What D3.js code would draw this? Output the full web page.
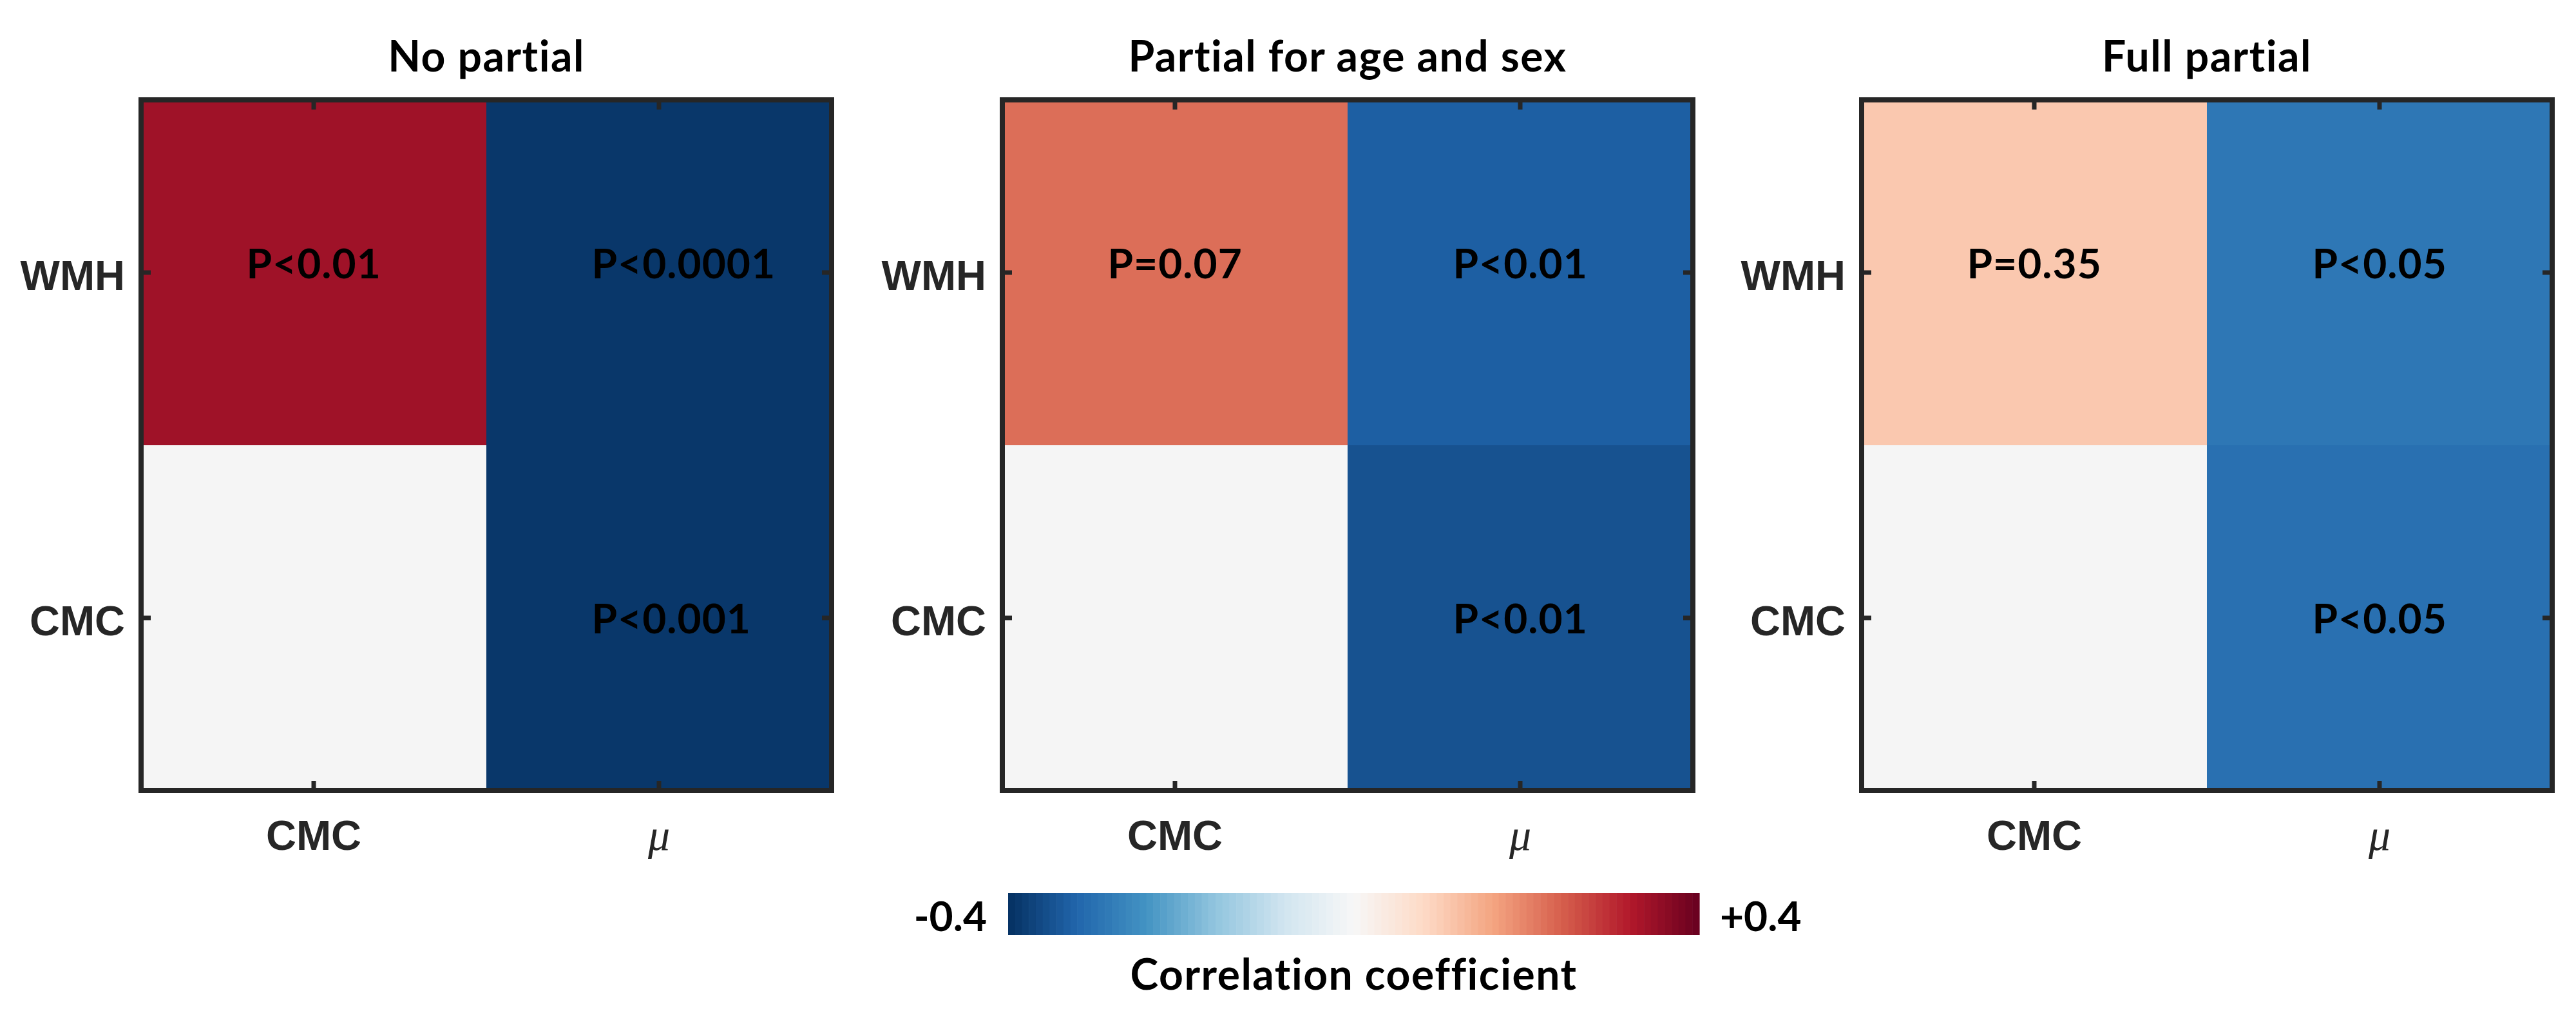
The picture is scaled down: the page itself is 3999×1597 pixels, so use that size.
<!DOCTYPE html>
<html>
<head>
<meta charset="utf-8">
<script src="https://cdn.jsdelivr.net/npm/d3@7"></script>
<style>
  body { margin: 0; background: #ffffff; }
</style>
</head>
<body>
<div id="chart"></div>
<script>
// ---- data ----
const panelTitles = ["No partial", "Partial for age and sex", "Full partial"];
const rowLabels = ["WMH", "CMC"];
const colLabels = ["CMC", "μ"];

// correlation coefficients, rows = rowLabels, cols = colLabels (null = not shown)
const corrNoPartial = [[0.34, -0.39], [null, -0.39]];
const corrAgeSex = [[0.224, -0.33], [null, -0.35]];
const corrFull = [[0.108, -0.29], [null, -0.302]];

const pNoPartial = [["P<0.01", "P<0.0001"], ["", "P<0.001"]];
const pAgeSex = [["P=0.07", "P<0.01"], ["", "P<0.01"]];
const pFull = [["P=0.35", "P<0.05"], ["", "P<0.05"]];

const colorLimits = [-0.4, 0.4];
const colorbarTickLabels = ["-0.4", "+0.4"];
const colorbarTitle = "Correlation coefficient";

// RdBu (blue -> red)
const rdbu = ["#053061", "#2166ac", "#4393c3", "#92c5de", "#d1e5f0", "#f7f7f7",
              "#fddbc7", "#f4a582", "#d6604d", "#b2182b", "#67001f"];

// ---- layout ----
const W = 3999, H = 1597;
const PANEL_LEFT = [219, 1556, 2890];
const PANEL_TOP = 155;
const PANEL_SIZE = 1072;
const TICK_LEN = 15;
const AXIS_COLOR = "#262626";
const EMPTY_FILL = "#f5f5f5";
const CB = { x0: 1565, x1: 2638, y: 1386, h: 65, steps: 100 };
const TITLE_FONT = "Lato, 'Open Sans', sans-serif";
const TICK_FONT = "'Liberation Sans', Arial, sans-serif";
const ROW_TEXT_NUDGE = [-14, 1];

const panels = [
  { title: panelTitles[0], corr: corrNoPartial, p: pNoPartial },
  { title: panelTitles[1], corr: corrAgeSex, p: pAgeSex },
  { title: panelTitles[2], corr: corrFull, p: pFull }
];

const color = d3.scaleLinear()
  .domain(d3.range(rdbu.length).map(i => colorLimits[0] + i * (colorLimits[1] - colorLimits[0]) / (rdbu.length - 1)))
  .range(rdbu)
  .clamp(true);

const svg = d3.select("#chart").append("svg")
  .attr("width", W)
  .attr("height", H)
  .attr("viewBox", `0 0 ${W} ${H}`);

panels.forEach((panel, pi) => {
  const g = svg.append("g")
    .attr("transform", `translate(${PANEL_LEFT[pi]},${PANEL_TOP})`);

  const x = d3.scaleBand().domain(colLabels).range([0, PANEL_SIZE]);
  const y = d3.scaleBand().domain(rowLabels).range([0, PANEL_SIZE]);

  const cells = [];
  rowLabels.forEach((r, ri) => {
    colLabels.forEach((c, ci) => {
      cells.push({ row: r, col: c, ri, value: panel.corr[ri][ci], label: panel.p[ri][ci] });
    });
  });

  g.selectAll(".cell")
    .data(cells)
    .enter()
    .append("rect")
    .attr("class", "cell")
    .attr("x", d => x(d.col))
    .attr("y", d => y(d.row))
    .attr("width", x.bandwidth() + 0.5)
    .attr("height", y.bandwidth() + 0.5)
    .attr("fill", d => d.value == null ? EMPTY_FILL : color(d.value));

  g.selectAll(".plabel")
    .data(cells.filter(d => d.label))
    .enter()
    .append("text")
    .attr("class", "plabel")
    .attr("x", d => x(d.col) + x.bandwidth() * 0.305)
    .attr("y", d => y(d.row) + y.bandwidth() / 2 + 23 + ROW_TEXT_NUDGE[d.ri])
    .attr("font-family", TITLE_FONT)
    .attr("font-weight", "bold")
    .attr("font-size", 64)
    .attr("letter-spacing", 1)
    .attr("fill", "#000")
    .text(d => d.label);

  const styleAxis = sel => {
    sel.select(".domain").remove();
    sel.selectAll(".tick line")
      .attr("stroke", AXIS_COLOR)
      .attr("stroke-width", 7);
    sel.selectAll(".tick text")
      .attr("fill", AXIS_COLOR)
      .attr("font-family", TICK_FONT)
      .attr("font-weight", "bold")
      .attr("font-size", 65);
  };

  g.append("g")
    .attr("transform", `translate(0,${PANEL_SIZE})`)
    .call(d3.axisBottom(x).tickSizeInner(-TICK_LEN).tickSizeOuter(0).tickPadding(0))
    .call(styleAxis)
    .call(a => a.selectAll(".tick text")
      .attr("y", 92)
      .attr("dy", null)
      .filter(d => d === "μ")
      .attr("font-family", "'Liberation Serif', 'DejaVu Serif', serif")
      .attr("font-style", "italic")
      .attr("font-weight", "normal")
      .attr("font-size", 68));

  g.append("g")
    .call(d3.axisTop(x).tickSizeInner(-TICK_LEN).tickSizeOuter(0).tickFormat(""))
    .call(styleAxis);

  g.append("g")
    .call(d3.axisLeft(y).tickSizeInner(-TICK_LEN).tickSizeOuter(0).tickPadding(25))
    .call(styleAxis)
    .call(a => a.selectAll(".tick text").attr("dy", null).attr("y", 27));

  g.append("g")
    .attr("transform", `translate(${PANEL_SIZE},0)`)
    .call(d3.axisRight(y).tickSizeInner(-TICK_LEN).tickSizeOuter(0).tickFormat(""))
    .call(styleAxis);

  g.append("rect")
    .attr("x", 0)
    .attr("y", 0)
    .attr("width", PANEL_SIZE)
    .attr("height", PANEL_SIZE)
    .attr("fill", "none")
    .attr("stroke", AXIS_COLOR)
    .attr("stroke-width", 8);

  g.append("text")
    .attr("x", PANEL_SIZE / 2)
    .attr("y", 111 - PANEL_TOP)
    .attr("text-anchor", "middle")
    .attr("font-family", TITLE_FONT)
    .attr("font-weight", "bold")
    .attr("font-size", 66)
    .attr("letter-spacing", 1.5)
    .attr("fill", "#000")
    .text(panel.title);
});

// ---- colorbar ----
const cbX = d3.scaleLinear().domain(colorLimits).range([CB.x0, CB.x1]);
const stepSize = (colorLimits[1] - colorLimits[0]) / CB.steps;
const steps = d3.range(CB.steps).map(i => colorLimits[0] + i * stepSize);

svg.append("g")
  .selectAll("rect")
  .data(steps)
  .enter()
  .append("rect")
  .attr("x", d => cbX(d))
  .attr("y", CB.y)
  .attr("width", d => cbX(d + stepSize) - cbX(d) + 0.6)
  .attr("height", CB.h)
  .attr("fill", d => color(d + stepSize / 2));

svg.append("text")
  .attr("x", cbX(colorLimits[0]) - 33)
  .attr("y", 1445)
  .attr("text-anchor", "end")
  .attr("font-family", TITLE_FONT)
  .attr("font-weight", "bold")
  .attr("font-size", 64)
  .text(colorbarTickLabels[0]);

svg.append("text")
  .attr("x", cbX(colorLimits[1]) + 32)
  .attr("y", 1445)
  .attr("font-family", TITLE_FONT)
  .attr("font-weight", "bold")
  .attr("font-size", 64)
  .text(colorbarTickLabels[1]);

svg.append("text")
  .attr("x", (CB.x0 + CB.x1) / 2)
  .attr("y", 1536)
  .attr("text-anchor", "middle")
  .attr("font-family", TITLE_FONT)
  .attr("font-weight", "bold")
  .attr("font-size", 66)
  .attr("letter-spacing", 1.5)
  .text(colorbarTitle);
</script>
</body>
</html>
